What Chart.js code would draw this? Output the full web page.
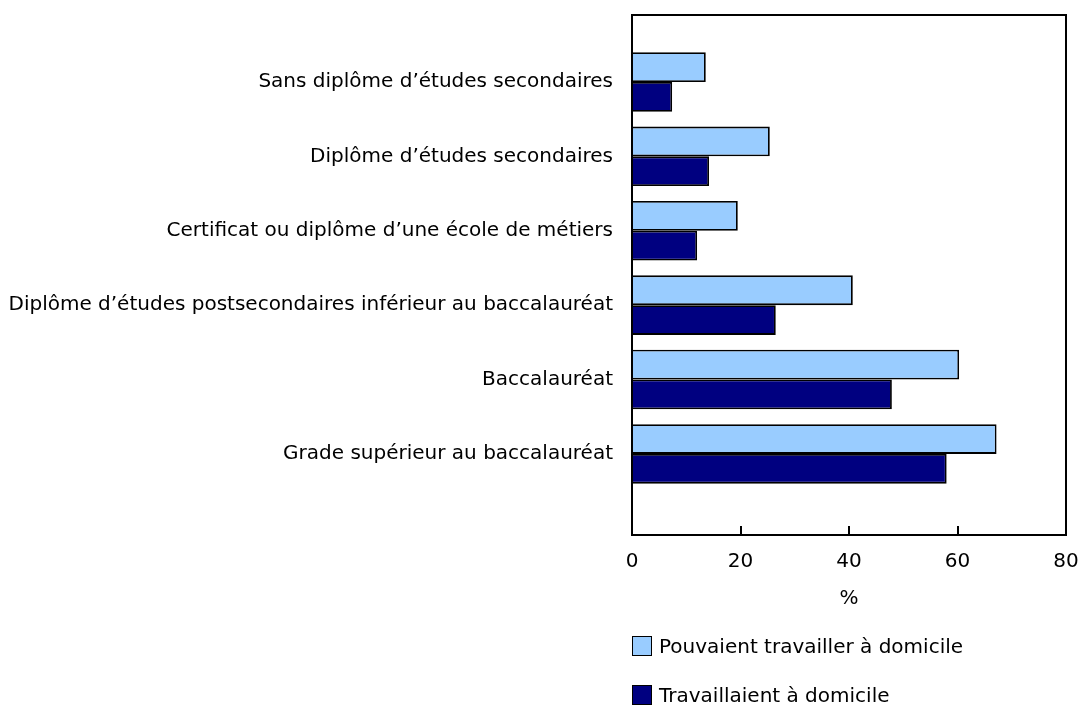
<!DOCTYPE html>
<html>
<head>
<meta charset="utf-8">
<script src="https://cdn.jsdelivr.net/npm/chart.js@4"></script>
<style>
  body { margin: 0; background: #fff; }
  #wrap { position: relative; width: 1080px; height: 706px; }
  #legend { position: absolute; left: 632px; top: 636px; font: 20px "DejaVu Sans", Verdana, sans-serif; color: #000; }
  .item { display: flex; align-items: center; height: 20px; margin-bottom: 29px; }
  .box { width: 20px; height: 20px; box-sizing: border-box; border: 1.5px solid #000; margin-right: 7px; }
</style>
</head>
<body>
<div id="wrap">
  <canvas id="chart" width="1080" height="706"></canvas>
  <div id="legend"></div>
</div>
<script>
const categories = [
    "Sans diplôme d’études secondaires",
    "Diplôme d’études secondaires",
    "Certificat ou diplôme d’une école de métiers",
    "Diplôme d’études postsecondaires inférieur au baccalauréat",
    "Baccalauréat",
    "Grade supérieur au baccalauréat",
];
const pouvaient = [13.6, 25.4, 19.5, 40.7, 60.3, 67.2];
const travaillaient = [7.4, 14.2, 12.0, 26.5, 47.9, 58.0];
const xTicks = [0, 20, 40, 60, 80];

const FONT = "'DejaVu Sans', Verdana, sans-serif";

const datasets = [
    { label: "Pouvaient travailler à domicile", values: pouvaient, color: "#99CCFF" },
    { label: "Travaillaient à domicile", values: travaillaient, color: "#000080" },
].map((s) => ({
    label: s.label,
    data: s.values.map((v, i) => ({ x: v, y: i })),
    backgroundColor: s.color,
    borderColor: "#000",
    borderWidth: 1.8,
    categoryPercentage: 0.8,
    barPercentage: 1.0,
}));

// frame around plot + tick marks pointing inward
const framePlugin = {
    id: "frame",
    afterDatasetsDraw(chart) {
        const { ctx, chartArea: a } = chart;
        const xs = chart.scales.x;
        ctx.save();
        ctx.strokeStyle = "#000";
        ctx.lineWidth = 2;
        ctx.strokeRect(a.left, a.top, a.right - a.left, a.bottom - a.top);
        xTicks.forEach((t) => {
            const px = Math.round(xs.getPixelForValue(t));
            ctx.beginPath();
            ctx.moveTo(px, a.bottom);
            ctx.lineTo(px, a.bottom - 9);
            ctx.stroke();
        });
        ctx.restore();
    },
};

new Chart(document.getElementById("chart"), {
    type: "bar",
    data: { datasets: datasets },
    options: {
        indexAxis: "y",
        responsive: false,
        animation: false,
        layout: { autoPadding: false, padding: { top: 15, right: 14, left: 0, bottom: 91 } },
        plugins: { legend: { display: false }, tooltip: { enabled: false } },
        scales: {
            y: {
                type: "linear",
                reverse: true,
                offset: false,
                min: -0.9,
                max: 6.09,
                afterBuildTicks: (scale) => {
                    scale.ticks = categories.map((_, i) => ({ value: i }));
                },
                afterFit: (scale) => {
                    scale.width = 632;
                    scale.paddingTop = 0;
                    scale.paddingBottom = 0;
                },
                grid: { display: false, drawTicks: false, offset: false },
                border: { display: false },
                ticks: {
                    padding: 19,
                    color: "#000",
                    font: { family: FONT, size: 20 },
                    callback: (v) => categories[v] ?? "",
                },
            },
            x: {
                type: "linear",
                min: 0,
                max: 80,
                afterBuildTicks: (scale) => {
                    scale.ticks = xTicks.map((v) => ({ value: v }));
                },
                afterFit: (scale) => {
                    scale.height = 80;
                    scale.paddingLeft = 0;
                    scale.paddingRight = 0;
                },
                grid: { display: false, drawTicks: false },
                border: { display: false },
                ticks: {
                    padding: 15,
                    maxRotation: 0,
                    color: "#000",
                    font: { family: FONT, size: 20 },
                },
                title: {
                    display: true,
                    text: "%",
                    color: "#000",
                    padding: { top: 11 },
                    font: { family: FONT, size: 20 },
                },
            },
        },
    },
    plugins: [framePlugin],
});

const legend = document.getElementById("legend");
datasets.forEach((d) => {
    const item = document.createElement("div");
    item.className = "item";
    const box = document.createElement("span");
    box.className = "box";
    box.style.background = d.backgroundColor;
    const txt = document.createElement("span");
    txt.textContent = d.label;
    item.appendChild(box);
    item.appendChild(txt);
    legend.appendChild(item);
});
</script>
</body>
</html>
